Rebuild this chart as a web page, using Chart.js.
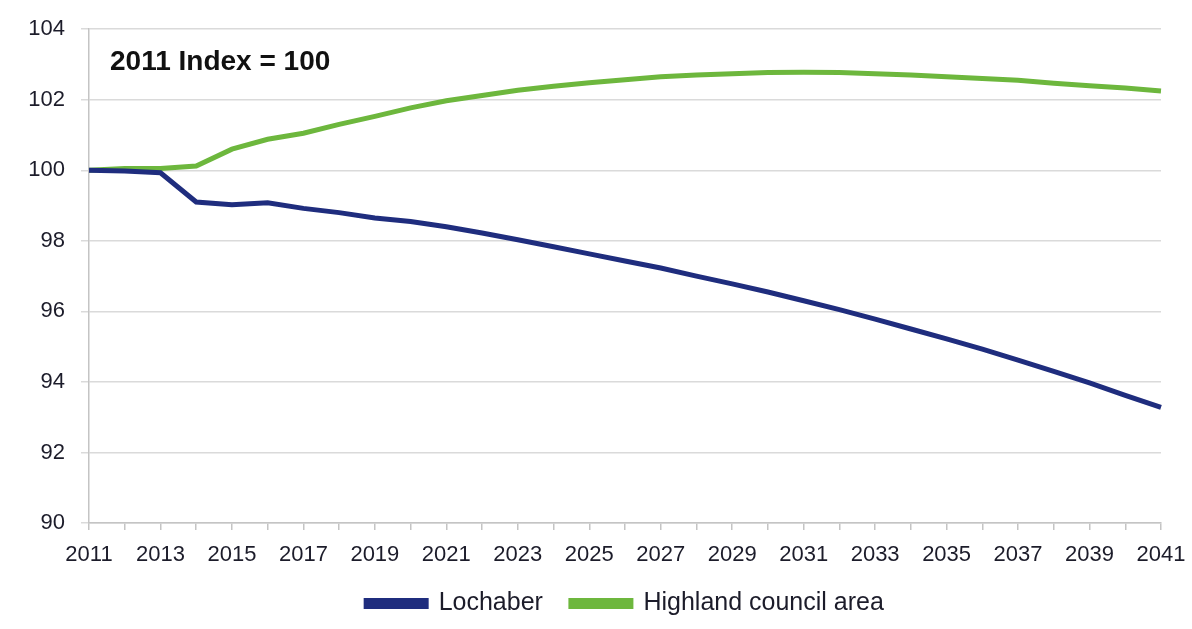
<!DOCTYPE html>
<html>
<head>
<meta charset="utf-8">
<script src="https://cdn.jsdelivr.net/npm/chart.js@4.4.1/dist/chart.umd.min.js"></script>
<style>
  html, body { margin: 0; padding: 0; background: #fff; }
  #wrap { width: 1192px; height: 629px; position: relative; }
</style>
</head>
<body>
<div id="wrap"><canvas id="IndexChart"></canvas></div>
<script>
// Years on the x axis
const years = [
    2011, 2012, 2013, 2014, 2015, 2016, 2017, 2018, 2019, 2020,
    2021, 2022, 2023, 2024, 2025, 2026, 2027, 2028, 2029, 2030,
    2031, 2032, 2033, 2034, 2035, 2036, 2037, 2038, 2039, 2040, 2041
];
// Population index, 2011 = 100
const lochaber = [
    100.0, 99.98, 99.93, 99.1, 99.02, 99.08, 98.92, 98.8, 98.65, 98.55,
    98.4, 98.22, 98.03, 97.83, 97.63, 97.43, 97.23, 97.0, 96.78, 96.55,
    96.3, 96.05, 95.78, 95.5, 95.22, 94.93, 94.62, 94.3, 93.97, 93.62, 93.28
];
const highland = [
    100.0, 100.05, 100.05, 100.12, 100.6, 100.88, 101.05, 101.3, 101.53, 101.77,
    101.97, 102.12, 102.27, 102.38, 102.48, 102.57, 102.65, 102.7, 102.74, 102.77,
    102.78, 102.77, 102.74, 102.7, 102.65, 102.6, 102.55, 102.47, 102.4, 102.33, 102.25
];
const yTicks = [90, 92, 94, 96, 98, 100, 102, 104];
const noteText = "2011 Index = 100";

const FontFamily = "'Liberation Sans', Arial, Helvetica, sans-serif";
const TextColor = "#1c1c2a";
const LegendHeight = 66;

// draw the "2011 Index = 100" note inside the plot
const notePlugin = {
    id: 'indexNote',
    afterDraw(chart) {
        const ctx = chart.ctx;
        const area = chart.chartArea;
        ctx.save();
        ctx.font = "bold 28px " + FontFamily;
        ctx.fillStyle = "#111";
        ctx.textBaseline = "middle";
        ctx.fillText(noteText, area.left + 21, area.top + 33);
        ctx.restore();
    }
};

// legend item spacing is tied to its vertical padding, so trim the box height afterwards
const legendHeightPlugin = {
    id: 'legendHeight',
    beforeLayout(chart) {
        const legend = chart.legend;
        if (!legend || legend._heightPatched) return;
        const fit = legend.fit;
        legend.fit = function () {
            fit.call(this);
            this.height = LegendHeight;
        };
        legend._heightPatched = true;
    }
};

new Chart(document.getElementById('IndexChart'), {
    type: 'line',
    data: {
        labels: years,
        datasets: [
            {
                label: 'Lochaber',
                data: lochaber,
                borderColor: '#1f2d7e',
                backgroundColor: '#1f2d7e',
                borderWidth: 5,
                pointRadius: 0,
                tension: 0,
            },
            {
                label: 'Highland council area',
                data: highland,
                borderColor: '#6db73d',
                backgroundColor: '#6db73d',
                borderWidth: 5,
                pointRadius: 0,
                tension: 0,
            }
        ]
    },
    options: {
        responsive: true,
        maintainAspectRatio: false,
        animation: false,
        layout: {
            padding: { top: 28, right: 0, bottom: 0, left: 0 }
        },
        plugins: {
            legend: {
                position: 'bottom',
                fullSize: false,
                labels: {
                    boxWidth: 60,
                    boxHeight: 6,
                    padding: 28,
                    color: TextColor,
                    font: { family: FontFamily, size: 25 }
                }
            },
            tooltip: { enabled: false }
        },
        scales: {
            x: {
                offset: false,
                afterFit: scale => {
                    scale.height = 40;
                    // keep the plot's right edge fixed, the last label hangs past it
                    scale.paddingLeft = 0;
                    scale.paddingRight = 31;
                },
                grid: {
                    drawOnChartArea: false,
                    drawTicks: true,
                    tickLength: 7,
                    color: '#c4c4c4',
                    lineWidth: 1.5
                },
                border: { color: '#c4c4c4', width: 1.5 },
                ticks: {
                    autoSkip: false,
                    maxRotation: 0,
                    minRotation: 0,
                    padding: 12,
                    color: TextColor,
                    font: { family: FontFamily, size: 22 },
                    callback: function (value, index) {
                        return index % 2 === 0 ? years[index] : '';
                    }
                }
            },
            y: {
                min: 90,
                max: 104,
                afterBuildTicks: scale => {
                    scale.ticks = yTicks.map(v => ({ value: v }));
                },
                afterFit: scale => { scale.width = 89; },
                grid: {
                    color: '#dadada',
                    lineWidth: 1.5,
                    tickLength: 8
                },
                border: { color: '#c4c4c4', width: 1.5 },
                ticks: {
                    padding: 16,
                    color: TextColor,
                    font: { family: FontFamily, size: 22 }
                }
            }
        }
    },
    plugins: [notePlugin, legendHeightPlugin]
});
</script>
</body>
</html>
